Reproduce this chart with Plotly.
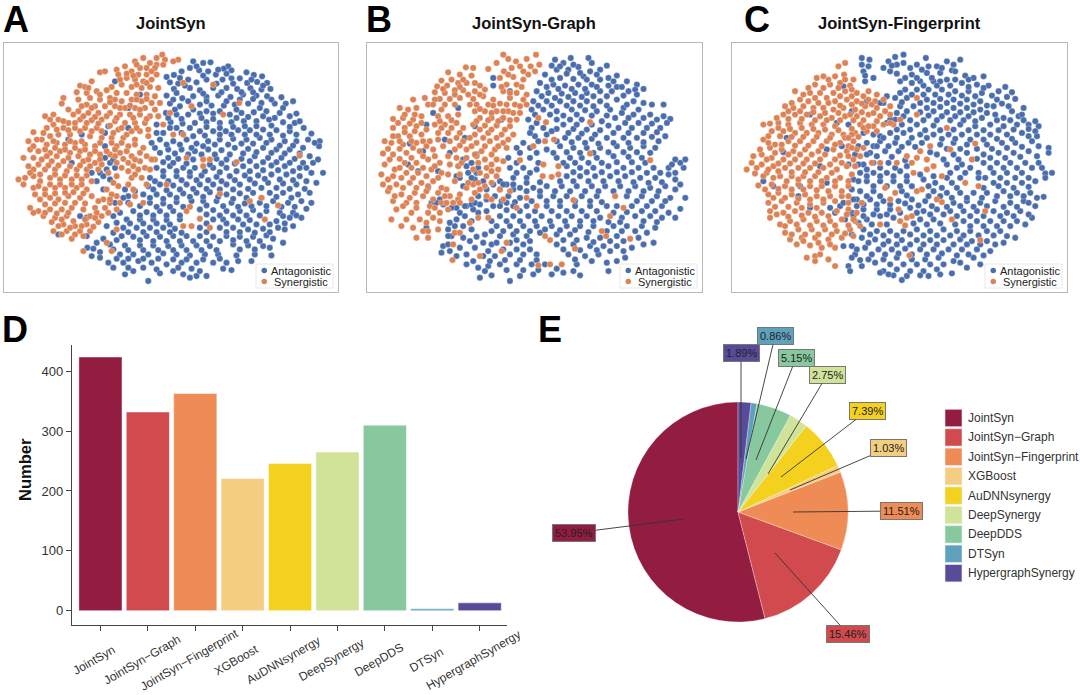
import plotly.graph_objects as go

W, H = 1080, 695
FONT = "Liberation Sans"

# ---- data (t-SNE positions are a hand-read subset, in crop units) ----
models = ["JointSyn", "JointSyn\u2212Graph", "JointSyn\u2212Fingerprint", "XGBoost", "AuDNNsynergy",
          "DeepSynergy", "DeepDDS", "DTSyn", "HypergraphSynergy"]
numbers = [424, 332, 363, 221, 246, 265, 310, 3, 13]
shares = [53.95, 15.46, 11.51, 1.03, 7.39, 2.75, 5.15, 0.86, 1.89]
colors = ["#931C41", "#D04A4E", "#EF8B54", "#F5CD80", "#F4D11F", "#D1E399", "#87C89E", "#5FA1BC", "#5A4A9A"]
y_ticks = [0, 100, 200, 300, 400]
titles = ["JointSyn", "JointSyn-Graph", "JointSyn-Fingerprint"]
classes = ["Antagonistic", "Synergistic"]

A_syn = [487,165,470,175,495,180,430,175,405,185,450,190,470,195,490,195,535,180,520,185,375,200,350,210,420,205,440,205,465,205,300,218,315,215,355,225,395,215,415,225,440,225,470,225,275,245,380,235,405,240,430,245,455,240,240,258,255,262,335,262,365,255,395,262,425,265,450,262,475,265,230,278,260,280,290,275,320,272,350,280,380,280,410,285,440,285,465,290,190,295,235,300,270,295,300,300,330,295,365,305,395,300,425,305,455,310,480,310,185,312,260,315,285,320,315,320,345,320,375,325,405,325,435,325,465,330,205,330,235,335,265,340,295,340,330,340,360,345,390,345,420,345,450,350,475,350,135,350,160,345,175,360,205,370,240,360,275,362,305,360,345,365,375,370,405,370,435,370,160,375,140,385,190,385,225,385,255,385,290,385,355,390,395,395,420,395,100,398,125,420,150,410,175,405,210,405,270,410,305,415,335,415,370,415,405,420,445,410,85,425,110,420,140,435,170,430,195,435,225,430,255,435,285,440,350,440,385,440,430,445,70,475,90,450,115,455,150,460,180,455,210,460,240,455,270,465,300,465,330,465,360,460,395,470,440,470,85,500,125,480,155,485,190,485,250,485,285,490,350,490,385,490,420,485,465,480,100,510,135,510,165,510,200,515,230,510,260,510,295,510,385,515,415,510,55,540,75,535,100,530,120,545,150,535,180,540,215,540,245,540,275,545,350,530,395,535,425,535,100,565,135,570,165,565,195,565,230,565,260,570,320,570,355,560,120,600,150,595,175,600,205,590,240,595,275,590,310,600,350,590,405,590,430,610,90,625,115,635,150,630,185,630,215,625,250,630,285,625,315,625,350,630,130,650,165,655,200,650,270,650,305,650,155,668,190,675,225,680,260,675,295,668,160,695,200,695,240,695,270,695,215,718,250,710,
550,250,640,255,575,320,718,310,670,345,510,340,490,375,550,405,520,405,560,475,610,480,630,480,610,500,710,488,900,468,500,555,660,583,785,595,750,605,835,618,795,660,570,622,560,635,600,658,575,680,550,680,630,685,350,690,320,730,335,755,250,755,
410,195,455,215,380,222,400,228,360,240,410,255,440,250,265,265,300,285,345,300,410,300,440,298,245,320,275,325,330,308,360,325,390,318,420,330,220,345,250,350,285,352,320,350,350,355,400,355,440,358,150,360,190,365,225,370,260,370,295,372,330,378,365,385,410,385,445,390,170,390,205,392,240,395,275,395,305,395,340,400,380,405,130,400,160,425,210,425,245,425,300,430,335,430,365,430,405,435,100,440,135,450,165,445,195,450,225,445,255,450,285,455,320,455,345,450,380,455,420,460,100,475,140,470,170,470,205,475,235,470,265,480,300,480,370,478,405,480,115,495,145,498,175,498,210,500,240,498,270,500,365,505,400,500,435,505,90,520,120,525,165,525,195,528,230,528,260,528,405,525,70,555,115,560,150,555,180,555,215,555,245,555,340,550,105,585,135,585,165,582,195,580,220,578,250,582,335,585,135,615,165,612,195,610,225,610,255,612,295,605,330,610,100,640,135,640,170,642,205,640,290,640,325,640,185,660,220,665,255,660,285,655,175,680,210,685,245,680,280,682,185,705,225,705,
305,495,325,520,345,470,455,480,450,510,440,555,400,570,385,555,360,610,330,600,390,615]
A_ant = [580,185,610,190,632,188,685,200,672,207,695,212,570,205,598,212,625,215,648,225,522,226,500,232,545,215,740,218,762,226,787,230,720,236,510,248,535,252,565,240,590,248,620,240,668,240,695,236,742,250,772,247,802,250,522,268,570,265,600,272,640,265,680,265,712,268,752,266,812,268,785,270,500,288,547,296,580,290,620,292,655,288,692,292,730,285,770,288,802,290,845,293,880,305,858,312,510,312,540,320,600,315,635,318,672,318,705,315,745,312,785,310,825,312,498,340,530,345,565,345,600,342,640,342,690,345,725,340,762,338,800,335,840,340,890,342,512,368,548,372,585,370,620,368,660,370,695,368,732,365,770,365,808,360,850,368,885,370,600,395,640,395,678,395,715,392,750,392,790,390,830,392,870,395,912,385,935,402,480,420,520,425,560,420,590,432,625,425,660,420,700,418,740,420,780,415,815,420,855,425,890,425,925,420,960,425,465,445,505,450,545,450,585,455,625,450,665,452,705,445,745,448,790,445,830,450,870,450,910,445,958,440,505,475,535,478,580,480,650,478,680,480,725,478,765,470,805,475,845,475,885,478,930,470,470,505,510,500,550,505,585,505,640,505,680,505,730,500,770,500,815,498,855,500,900,505,940,490,450,535,490,530,530,530,570,530,605,528,650,532,690,530,735,528,775,528,815,525,860,525,900,530,935,520,970,520,445,560,480,555,520,558,560,555,600,555,640,555,680,555,720,555,765,552,805,550,850,552,890,555,950,550,430,585,470,585,510,585,550,582,590,580,630,578,680,585,720,582,760,580,810,580,850,580,895,585,930,580,385,610,450,610,490,612,530,608,575,605,610,605,650,605,695,610,735,612,780,610,820,605,865,610,905,605,935,610,400,635,440,638,480,635,520,635,600,630,640,632,680,635,720,635,760,632,800,635,840,640,880,640,920,628,340,650,380,660,420,660,460,660,500,662,540,660,640,660,670,660,715,660,750,662,830,665,870,655,905,655,320,680,370,685,410,685,450,685,490,685,525,688,600,685,660,685,700,685,745,690,790,688,835,685,880,680,365,710,400,712,440,710,480,712,520,710,560,710,600,710,640,712,680,710,720,712,760,712,800,708,850,730,290,730,330,735,375,738,420,738,460,738,505,740,545,738,590,738,630,740,700,735,745,738,790,740,262,745,300,758,360,765,400,765,445,765,490,762,530,765,570,768,615,765,655,765,710,768,765,765,815,768,275,770,325,790,370,790,415,785,455,790,500,795,545,790,590,790,640,790,695,812,670,808,755,785,375,825,400,815,445,845,470,810,520,815,550,825,590,830,620,830,570,835,
345,245,420,285,385,325,325,380,385,385,315,400,245,405,205,420,315,440,215,490,275,520,330,490,290,545,310,570,240,650,175,705,260,710,375,570,385,590,260,655,
590,200,655,210,540,235,610,228,680,222,755,240,555,258,650,252,700,252,790,258,530,280,610,282,665,278,725,278,760,278,520,300,565,305,620,305,680,305,720,300,760,298,815,300,525,330,580,330,620,335,660,335,710,330,780,325,850,325,545,358,605,355,640,358,710,355,745,352,790,350,825,355,870,350,530,385,570,385,620,382,660,385,700,382,735,380,770,380,815,378,870,382,900,365,545,400,580,410,615,408,660,405,695,405,735,405,770,405,810,405,850,408,890,405,500,435,540,435,575,445,610,440,645,435,685,435,725,432,760,432,800,430,840,438,880,438,945,430,480,460,525,462,565,465,605,465,645,465,690,465,730,462,770,458,815,460,855,462,900,462,490,488,520,490,560,492,630,495,665,492,705,492,750,485,790,488,830,488,870,490,910,490,955,480,490,515,530,515,570,518,615,515,660,518,710,515,750,515,790,512,835,512,880,515,920,505,465,545,505,545,545,542,590,542,625,542,665,545,705,542,750,540,795,538,840,540,880,542,920,545,460,570,500,572,540,570,580,568,620,568,660,570,700,570,745,568,785,565,830,565,870,568,915,568,450,595,490,598,530,595,570,592,610,592,655,592,700,598,740,595,785,595,830,592,875,595,420,620,470,622,510,622,550,622,620,618,670,620,715,622,755,620,800,620,845,622,885,622,360,640,420,648,460,648,500,648,540,648,620,645,660,648,700,648,740,648,780,648,850,650,890,648,350,670,390,672,430,672,470,672,510,675,620,672,680,672,730,675,770,675,810,675,855,672,340,700,385,698,430,698,470,698,510,698,545,700,620,698,680,698,720,698,765,700,810,698,855,690,310,718,350,722,420,722,460,725,500,725,540,725,580,725,620,725,660,725,700,722,740,725,780,725,820,718,280,748,340,750,385,752,430,752,475,752,520,752,560,752,605,752,650,752,720,750,765,750,810,745,300,775,350,778,385,778,430,778,475,778,520,780,560,780,610,780,660,778,715,785,340,805,385,805,430,805,480,822,535,805,575,808,600,815,680,790,
315,475,340,480,320,510,345,505,300,520,330,540,310,530,405,575,370,595,345,610,455,430,470,400,490,400,510,385,505,355,470,375]

B_syn = [430,165,528,165,445,178,468,185,500,178,538,195,410,190,385,208,455,205,512,200,340,205,318,203,265,218,432,215,490,215,525,215,300,225,335,228,245,243,275,240,420,235,460,232,490,240,232,260,262,258,295,250,320,250,360,258,440,255,470,255,225,278,255,280,285,272,310,272,345,275,375,270,430,275,470,280,500,285,195,295,240,298,270,298,300,295,340,298,370,290,400,300,450,295,490,300,160,300,205,315,350,315,385,315,420,312,465,315,500,315,120,325,145,330,170,325,185,350,345,335,375,335,410,335,445,335,480,340,100,358,130,355,160,360,235,350,265,350,295,345,360,355,395,355,430,355,470,360,100,385,135,385,170,380,225,375,255,375,290,370,340,375,375,378,410,378,450,380,75,425,115,410,150,410,185,405,235,400,265,400,300,400,345,405,385,400,425,405,460,405,95,430,130,435,170,430,210,425,270,425,310,425,350,430,390,425,430,430,70,462,100,465,140,460,180,455,220,450,285,450,320,450,365,455,405,450,440,445,75,495,105,510,135,490,170,490,205,480,240,490,290,475,375,480,410,480,65,525,100,530,140,520,175,520,215,510,245,520,295,500,380,505,415,510,70,555,110,555,150,550,185,550,220,545,260,570,285,545,380,530,410,530,85,575,125,585,165,580,200,575,235,580,270,590,320,565,345,580,375,560,100,605,140,610,170,610,210,620,245,610,280,610,380,590,430,600,110,630,155,640,205,640,240,640,265,630,95,660,125,680,160,685,200,670,240,665,170,715,205,715,190,695,235,690,
535,355,558,368,690,368,520,440,582,420,555,425,480,482,550,495,595,500,575,532,595,525,548,530,690,462,870,482,765,590,790,625,750,650,725,695,738,710,810,718,555,710,570,722,645,748,605,795,570,795,535,798,440,730,425,755,385,655,360,770,285,700,280,735,278,782,500,595,530,620,470,625,640,602,450,575,
480,200,445,225,505,225,310,240,345,250,250,268,300,262,425,262,485,262,225,300,285,285,325,285,360,285,450,280,220,315,255,315,285,315,330,315,400,318,440,315,480,320,135,345,165,345,245,330,360,328,395,340,430,335,460,340,115,370,150,372,185,370,240,365,275,362,350,365,385,362,415,365,450,362,100,410,135,398,165,395,200,390,245,385,275,385,310,385,360,390,395,390,435,390,120,425,155,425,190,425,235,420,290,415,330,415,370,415,410,415,445,420,85,448,120,448,160,445,200,440,250,440,300,438,335,440,375,440,415,440,90,480,120,478,155,475,190,470,225,470,265,470,350,470,395,465,120,505,155,505,190,505,225,500,270,495,355,490,395,495,430,485,85,540,125,535,160,535,200,530,235,535,265,525,300,525,360,520,395,515,90,565,130,565,170,565,205,560,245,565,340,555,360,570,105,590,150,595,190,590,220,600,255,590,300,585,335,600,130,620,170,625,225,625,260,610,295,600,140,660,180,660,220,655,205,695,
320,475,305,490,340,510,345,465,355,550,325,550,395,550,420,570,395,600,300,610,355,655,330,670,300,700]
B_ant = [585,180,632,175,610,190,685,175,575,198,655,202,695,190,720,210,740,198,590,210,625,210,690,215,555,225,600,235,640,238,670,230,770,228,745,235,720,240,540,250,580,255,615,258,655,255,695,255,800,245,830,255,770,262,530,275,565,280,605,282,645,280,680,280,720,275,755,275,805,275,850,268,520,305,560,305,600,305,640,305,680,305,720,305,770,300,820,305,875,315,910,315,515,330,550,330,590,335,635,330,675,332,710,335,750,330,790,325,835,330,505,360,590,360,630,360,665,360,725,365,765,355,805,355,850,355,890,360,930,358,515,385,550,385,590,388,640,388,680,390,720,392,775,385,815,385,860,385,900,385,525,410,560,405,615,415,655,415,695,418,740,415,790,415,830,415,875,412,915,410,470,445,510,445,560,450,600,440,640,445,680,445,720,445,770,440,810,445,850,440,885,445,445,475,510,475,590,475,630,475,665,475,710,475,760,470,805,472,845,475,945,480,975,480,450,505,490,505,530,510,620,500,660,505,700,505,745,500,790,505,835,505,880,505,925,505,970,505,420,545,460,535,500,535,620,530,660,530,705,530,750,530,795,530,840,535,885,535,925,525,960,555,480,565,520,565,560,560,605,560,650,560,695,560,735,560,780,560,825,560,870,565,915,560,945,570,975,595,405,590,445,590,480,595,540,590,580,590,620,590,665,590,710,590,800,590,845,590,890,590,930,595,320,620,360,615,400,620,500,620,560,620,600,620,645,620,690,620,740,620,770,620,815,620,860,620,905,620,960,628,315,650,270,670,355,640,420,650,460,650,505,650,545,650,595,650,635,650,680,650,720,655,785,655,825,650,870,650,905,655,945,655,310,680,335,690,410,680,450,680,490,680,530,680,575,680,620,680,660,680,700,680,760,680,800,680,845,680,885,685,250,740,265,690,310,715,375,705,420,710,460,705,500,710,540,700,590,705,630,705,680,715,720,715,770,710,835,715,880,730,300,745,345,745,395,735,450,730,490,735,590,735,640,735,690,740,730,740,770,740,815,745,850,735,245,760,290,770,320,795,370,770,405,770,450,765,490,765,530,765,625,765,675,770,715,765,795,775,355,805,385,800,420,795,470,795,515,795,555,795,650,795,740,790,770,785,360,835,395,828,450,845,480,830,520,825,575,825,610,820,660,828,745,815,
400,235,400,258,450,275,295,325,220,340,200,375,425,360,345,380,255,420,315,415,150,432,190,455,145,495,175,515,235,515,270,460,350,465,320,500,350,520,290,530,310,560,205,565,380,570,215,610,240,600,290,625,200,685,315,620,345,540,
600,200,640,195,660,220,710,225,575,240,620,222,680,240,760,245,560,262,595,268,635,268,675,268,710,262,745,258,785,262,825,270,545,290,585,295,625,292,665,292,700,290,740,290,790,288,830,285,535,318,575,318,620,318,660,318,700,320,740,318,800,315,850,310,525,345,570,345,610,348,650,345,695,348,740,348,785,340,820,345,870,345,910,350,530,370,610,375,650,375,695,375,745,378,795,370,835,370,875,372,920,370,510,400,575,395,625,400,665,402,705,405,760,400,805,400,850,400,890,398,490,430,535,425,590,425,635,428,675,430,715,432,760,430,805,430,850,428,895,425,480,460,530,460,580,460,620,458,660,460,700,460,745,458,790,458,830,458,870,460,470,490,535,490,610,490,645,490,685,490,725,490,770,488,815,488,855,490,935,495,960,490,470,520,510,520,640,518,680,518,725,518,770,518,815,518,860,520,900,520,945,520,440,555,500,550,540,548,600,545,640,545,685,545,730,545,775,545,820,548,865,550,905,548,945,540,420,570,460,570,500,575,540,575,585,575,630,575,675,575,715,575,760,575,805,575,850,575,895,575,380,600,425,605,465,608,515,605,560,605,600,605,645,605,690,605,725,608,830,605,875,605,915,605,340,630,380,635,440,632,480,635,525,635,575,635,620,635,665,635,710,635,760,640,800,638,845,635,885,635,925,640,290,660,335,665,395,665,440,665,480,665,525,665,570,665,615,665,660,665,700,665,745,668,780,668,850,665,890,668,275,710,350,712,395,695,430,695,470,695,510,695,555,690,600,692,645,692,685,698,740,695,785,695,825,695,860,700,265,735,330,725,370,730,410,730,470,722,510,725,610,722,650,722,700,728,750,725,790,725,270,755,320,765,385,755,430,750,470,750,510,750,610,750,660,752,710,752,750,755,790,755,340,785,390,785,435,782,480,782,530,782,645,780,695,785,375,815,440,812,490,812,535,812,590,808,640,815,
310,480,335,490,325,520,300,535,335,535,355,505,370,545,355,590,335,615,420,620,440,610,460,620,300,640,275,625,250,615,230,610,285,680,265,710,345,610,400,555,430,555,460,555]

C_syn = [375,190,355,200,345,230,372,225,400,240,290,235,310,230,265,265,285,255,330,255,360,250,390,258,225,275,270,280,300,280,340,280,375,275,410,280,445,275,470,285,240,300,345,305,380,300,410,305,445,300,490,300,195,320,220,325,250,320,280,325,310,325,340,330,370,325,405,330,435,320,470,325,510,320,190,345,225,345,260,345,300,350,335,355,375,350,410,350,445,345,480,350,510,345,130,375,150,372,175,370,205,375,240,370,275,375,310,375,345,380,420,375,460,380,490,375,520,375,155,395,190,395,225,400,260,400,295,400,335,405,370,405,405,400,440,395,130,420,165,435,205,425,240,425,280,425,320,425,360,430,400,425,150,445,185,450,220,455,255,450,295,455,340,450,380,455,100,470,125,465,155,475,190,480,225,480,260,480,300,480,345,480,95,490,125,495,160,500,195,505,235,505,270,505,310,505,350,510,380,500,80,510,105,522,140,520,180,530,215,530,250,530,285,530,320,535,360,535,395,525,115,558,155,555,195,560,235,555,270,560,305,560,345,560,385,560,145,585,175,580,215,585,255,585,290,590,330,590,365,590,145,610,185,605,230,610,270,615,310,610,150,635,190,640,225,635,265,640,305,640,350,635,385,630,410,640,150,655,180,675,210,665,250,660,290,665,330,665,365,660,405,665,195,700,235,690,275,690,315,690,350,695,390,690,420,680,210,720,245,715,285,715,325,720,365,715,400,710,230,735,270,738,305,745,345,745,260,775,285,770,300,765,325,780,345,800,285,785,
590,295,590,345,680,385,630,440,765,432,690,450,600,455,560,470,590,475,620,480,640,500,620,510,755,480,480,490,455,490,530,490,575,490,580,520,665,530,495,565,525,580,605,570,590,575,735,550,775,560,650,600,665,608,510,600,795,635,695,660,560,655,575,650,540,665,555,678,480,675,780,722,568,768,535,630,
325,240,375,240,310,265,355,265,395,270,250,285,285,295,320,295,360,290,395,290,430,290,465,305,215,310,265,305,295,310,325,310,360,318,395,315,425,312,455,315,205,335,240,335,280,338,315,340,355,340,390,345,425,338,460,340,495,335,170,355,205,358,245,358,285,362,320,362,360,362,400,362,430,362,470,365,175,385,210,388,245,385,280,388,315,390,355,392,395,388,430,385,470,395,145,410,180,410,215,412,250,412,290,412,330,415,375,415,415,412,145,430,185,435,225,438,265,438,305,440,345,435,385,440,120,450,165,460,205,465,240,465,275,465,315,465,360,468,140,480,175,492,210,492,250,492,285,492,330,495,365,490,110,505,145,510,175,515,215,518,255,518,295,518,335,520,130,530,160,535,200,545,235,540,270,545,305,545,345,545,385,545,135,570,175,568,215,570,250,570,290,572,325,575,365,575,160,595,195,595,235,598,270,600,310,600,345,605,165,622,205,622,245,625,290,625,170,645,205,652,245,648,285,652,325,650,380,645,195,680,230,675,270,678,310,678,345,678,385,678,215,705,255,705,295,705,335,705,375,702,250,725,295,730,330,735,
395,405,410,450,420,470,400,480,395,445,430,445,445,380,385,415,385,470,405,500,385,590,385,610,425,610,400,660,510,370,540,360]
C_ant = [425,175,448,180,425,195,445,200,430,215,460,235,435,245,550,165,525,172,505,185,490,205,530,195,550,190,617,175,590,195,605,210,650,200,680,185,700,195,720,180,510,215,530,222,575,225,620,220,660,220,695,212,735,228,760,235,790,230,540,245,600,245,640,245,680,240,725,250,770,255,805,258,555,270,590,270,625,270,665,270,705,275,745,275,785,280,835,275,875,278,525,295,560,295,620,300,660,298,700,300,740,300,780,305,830,300,885,298,540,320,580,320,620,325,660,322,700,325,740,325,780,330,820,320,865,320,910,325,550,350,625,348,665,350,705,350,745,350,785,355,825,345,850,355,895,350,545,375,590,375,640,378,720,375,765,380,810,375,850,380,890,375,925,375,955,380,460,405,510,400,550,400,600,405,640,405,685,405,725,405,770,405,810,405,860,405,905,400,945,395,440,430,480,425,525,430,565,430,605,430,660,435,700,430,740,435,800,435,845,430,885,430,935,425,985,445,450,460,495,455,535,455,650,465,700,465,740,460,790,465,835,460,880,460,925,455,985,460,430,495,505,490,680,495,725,495,790,490,830,490,870,490,915,490,955,490,420,520,460,520,500,520,540,515,690,520,735,520,775,520,820,520,860,520,905,520,975,522,995,520,440,545,480,545,520,545,560,545,610,540,645,550,695,550,775,535,820,550,860,550,905,550,945,545,975,535,420,575,460,575,545,575,640,575,680,580,720,580,760,580,800,580,850,575,890,580,930,580,970,592,410,600,450,600,490,605,535,605,575,600,615,605,700,610,740,605,780,610,825,605,870,610,910,605,945,620,430,630,470,630,510,630,570,625,610,635,650,630,690,635,730,635,770,635,820,635,860,640,900,635,935,655,440,660,480,650,520,655,600,660,640,660,730,665,770,665,810,665,850,665,890,665,915,675,430,690,470,695,510,695,550,695,590,690,630,695,670,690,710,695,750,695,800,695,840,695,425,715,465,720,505,725,545,722,590,722,630,722,670,722,720,720,755,725,800,725,885,715,850,730,395,740,435,745,475,750,515,750,555,748,600,750,640,750,685,750,725,750,770,750,810,755,405,765,445,780,490,780,530,775,575,780,615,780,655,775,700,785,760,775,385,800,425,800,490,815,530,810,570,815,610,815,650,810,695,822,740,805,780,795,480,820,520,828,545,842,625,830,390,815,
370,260,440,305,490,310,270,345,395,335,350,370,385,375,200,415,320,450,365,440,190,458,300,500,385,495,130,545,160,560,235,590,320,550,270,625,360,620,395,640,330,625,400,650,415,670,370,740,395,705,240,560,
435,228,515,198,570,205,625,200,665,205,705,215,555,235,590,235,635,235,660,245,705,240,745,240,575,250,610,258,650,258,690,258,745,262,790,265,855,262,540,280,575,285,610,285,645,285,685,285,725,288,765,290,815,288,860,292,545,308,600,310,640,310,680,310,720,312,760,315,800,318,845,312,560,335,600,338,640,335,680,338,720,338,760,338,800,340,875,335,905,345,525,360,570,362,610,362,650,362,690,362,730,362,765,365,830,362,870,362,910,362,945,365,530,390,570,390,615,392,660,392,700,390,745,392,790,392,835,392,880,390,925,388,480,410,530,415,575,415,620,415,665,418,705,418,750,420,790,420,830,418,875,418,925,410,950,410,460,440,505,440,545,442,585,442,630,458,680,448,720,448,770,448,815,448,860,445,905,442,955,440,470,470,515,472,555,482,670,480,715,480,770,478,810,475,855,475,900,472,950,470,440,510,480,505,525,505,560,500,710,505,750,505,810,505,850,505,890,505,935,505,965,505,440,530,480,530,520,530,560,530,600,525,640,530,680,535,720,535,795,535,840,535,885,535,925,535,460,560,500,560,540,560,575,560,625,560,665,565,710,565,790,565,835,560,880,565,925,562,440,590,480,590,560,588,625,590,660,590,695,595,740,595,785,595,830,590,870,590,910,590,950,595,430,615,470,615,510,615,555,612,595,618,635,620,680,622,720,620,760,622,800,620,850,622,890,622,925,610,460,645,500,645,540,640,590,640,630,645,670,645,710,650,750,650,790,650,840,650,880,650,925,645,455,675,500,675,580,672,620,675,660,672,705,675,750,680,790,680,830,680,870,680,450,705,490,708,530,708,570,705,610,708,650,708,690,708,730,708,775,708,820,708,860,710,445,730,490,735,530,735,570,735,610,735,650,735,700,735,740,735,780,735,825,735,410,750,455,765,495,765,535,762,575,765,620,765,665,762,710,768,745,765,790,768,420,782,465,790,510,795,550,795,590,795,630,795,670,795,720,790,395,775,505,825,560,830,600,828,660,825,
430,400,470,440,440,465,460,490,405,465,415,440,490,415,415,495,400,540,415,545,395,570,400,600,370,610,345,640,375,660,410,620,430,650,530,340,510,360,480,310,500,290,500,370]

panel_ant = [A_ant, B_ant, C_ant]
panel_syn = [A_syn, B_syn, C_syn]

# ---- layout geometry (page pixels) ----
def px(x): return x / W
def py(y): return 1 - y / H

BLUE, ORANGE = "#4A6DAD", "#DC8255"
frames = [(3.5, 338), (367, 702), (732, 1067)]   # panel left/right
crop_ranges = [(10, 1015), (22, 1025), (36, 1040)]
legend_left = [256, 620, 985]
title_cx = [171, 534, 899]
letters = [("A", 16), ("B", 379), ("C", 757), ("D", 15), ("E", 550)]

fig = go.Figure()
layout = dict(width=W, height=H, margin=dict(l=0, r=0, t=0, b=0), paper_bgcolor="white",
              plot_bgcolor="white", showlegend=False, font=dict(family=FONT, color="#222"))
annotations, shapes = [], []

for i in range(3):
    sx = "" if i == 0 else str(i + 1)
    for pts, col in ((panel_ant[i], BLUE), (panel_syn[i], ORANGE)):
        fig.add_trace(go.Scatter(x=pts[0::2], y=pts[1::2], mode="markers", xaxis="x" + sx, yaxis="y" + sx,
                                 marker=dict(size=6.3, color=col, line=dict(width=0.5, color="rgba(255,255,255,0.55)")),
                                 hoverinfo="skip"))
    axis_common = dict(showticklabels=False, ticks="", showgrid=False, zeroline=False, showline=True, mirror=True,
                       linecolor="#B8B8B8", linewidth=1.2)
    layout["xaxis" + sx] = dict(domain=[px(frames[i][0]), px(frames[i][1])], range=list(crop_ranges[i]),
                                anchor="y" + sx, **axis_common)
    layout["yaxis" + sx] = dict(domain=[py(292), py(43)], range=[878, 130], anchor="x" + sx, **axis_common)
    annotations.append(dict(text="<b>%s</b>" % titles[i], xref="paper", yref="paper", x=px(title_cx[i]), y=py(23),
                            showarrow=False, font=dict(size=16.5, color="#111"), xanchor="center", yanchor="middle"))
    # inset legend
    L = legend_left[i]
    shapes.append(dict(type="rect", xref="paper", yref="paper", x0=px(L), x1=px(L + 77), y0=py(288), y1=py(264),
                       fillcolor="rgba(255,255,255,0.95)", line=dict(color="#E2E2E2", width=0.8), layer="above"))
    for name, col, yy in ((classes[0], BLUE, 270.5), (classes[1], ORANGE, 281.5)):
        shapes.append(dict(type="circle", xref="paper", yref="paper", x0=px(L + 5.5), x1=px(L + 11), y0=py(yy + 2.8),
                           y1=py(yy - 2.8), fillcolor=col, line=dict(width=0), layer="above"))
        annotations.append(dict(text=name, xref="paper", yref="paper", x=px(L + 44.5), y=py(yy), showarrow=False,
                                font=dict(size=11, color="#222"), xanchor="center", yanchor="middle"))

for t, x in letters:
    y = 19 if t in "ABC" else 329
    annotations.append(dict(text="<b>%s</b>" % t, xref="paper", yref="paper", x=px(x), y=py(y), showarrow=False,
                            font=dict(size=36, color="black"), xanchor="center", yanchor="middle"))

# ---- panel D ----
fig.add_trace(go.Bar(x=list(range(len(models))), y=numbers, xaxis="x4", yaxis="y4", width=0.91,
                     marker=dict(color=colors, line=dict(color="rgba(255,255,255,0.6)", width=0.8)), hoverinfo="skip"))
layout["xaxis4"] = dict(domain=[px(72), px(507)], range=[-0.6, 8.576], anchor="y4", tickmode="array",
                        tickvals=list(range(len(models))), showticklabels=False, ticks="outside", ticklen=5,
                        tickcolor="#444", showgrid=False, zeroline=False, showline=True, linecolor="#444", linewidth=1.4)
layout["yaxis4"] = dict(domain=[py(625), py(345)], range=[-24, 444], anchor="x4", tickmode="array", tickvals=y_ticks,
                        ticks="outside", ticklen=5, tickcolor="#444", showgrid=False, zeroline=False, showline=True,
                        linecolor="#444", linewidth=1.4, tickfont=dict(size=13, color="#333"))
annotations.append(dict(text="<b>Number</b>", xref="paper", yref="paper", x=px(25), y=py(470), textangle=-90,
                        showarrow=False, font=dict(size=16.5, color="#111"), xanchor="center", yanchor="middle"))
for i, m in enumerate(models):
    annotations.append(dict(text=m, xref="x4", yref="paper", x=i - 0.13, y=py(660), textangle=-30, showarrow=False,
                            font=dict(size=12, color="#333"), xanchor="center", yanchor="middle"))

# ---- panel E ----
# Plotly ends the first counterclockwise slice at `rotation`; turn it so JointSyn starts at 12 o'clock.
fig.add_trace(go.Pie(values=shares, labels=models, sort=False, direction="counterclockwise",
                     rotation=360 - 360 * shares[0] / sum(shares),
                     domain=dict(x=[px(628), px(848)], y=[py(622), py(402)]), textinfo="none",
                     marker=dict(colors=colors, line=dict(color="rgba(255,255,255,0.6)", width=0.5)), hoverinfo="skip"))
label_boxes = [(574, 533, 684, 519), (848, 634, 775, 553), (901, 511, 793, 512), (888, 448, 790, 490),
               (867, 411, 781, 477), (827, 375, 768, 474), (796, 358, 756, 460), (775, 336, 746, 459), (741, 353, 741, 458)]
for s, c, (lx, ly, tx, ty) in zip(shares, colors, label_boxes):
    annotations.append(dict(text="%.2f%%" % s, xref="paper", yref="paper", x=px(tx), y=py(ty), axref="pixel", ayref="pixel",
                            ax=lx - tx, ay=ly - ty, showarrow=True, arrowhead=0, arrowwidth=0.9, arrowcolor="#333",
                            standoff=0, bgcolor=c, bordercolor="#777", borderwidth=1, borderpad=2,
                            font=dict(size=11, color="#222"), xanchor="center", yanchor="middle"))
for i, (m, c) in enumerate(zip(models, colors)):
    cy = 418 + i * 19.4
    shapes.append(dict(type="rect", xref="paper", yref="paper", x0=px(945), x1=px(962), y0=py(cy + 8.7), y1=py(cy - 8.7),
                       fillcolor=c, line=dict(color="#EEE", width=0.6), layer="above"))
    annotations.append(dict(text=m, xref="paper", yref="paper", x=px(966), y=py(cy), showarrow=False, xanchor="left",
                            yanchor="middle", font=dict(size=12, color="#333")))

layout["annotations"] = annotations
layout["shapes"] = shapes
fig.update_layout(**layout)
fig.write_html("out.html", config={"displayModeBar": False},
               post_script="document.body.style.margin='0';document.body.style.overflow='hidden';")
